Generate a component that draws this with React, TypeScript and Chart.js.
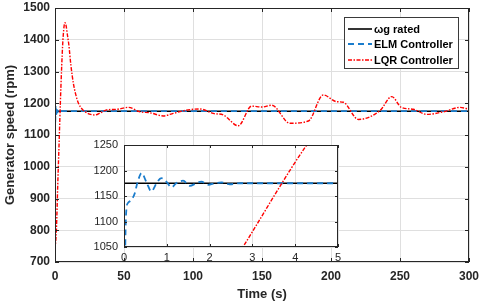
import React, { useEffect, useRef } from "react";
import { Chart, registerables } from "chart.js";

Chart.register(...registerables);

// ---------- data ----------
const ratedTime = [0, 300];
const ratedSpeed = [1175, 1175];

const elmTime = [0, 0.015, 0.03, 0.055, 0.09, 0.17, 0.25, 0.31, 0.41, 0.52, 0.64, 0.76, 0.87, 0.99, 1.11, 1.22, 1.38, 1.54, 1.69, 1.81, 1.97, 2.12, 2.28, 2.47, 2.71, 3.5, 300];
const elmSpeed = [700, 900, 1050, 1123, 1136, 1142, 1155, 1175, 1195, 1178, 1159, 1175, 1185, 1178, 1167, 1175, 1180, 1170, 1175, 1178, 1172, 1175, 1176.5, 1173, 1175, 1175, 1175];

const lqrTime = [0, 1, 2, 2.78, 4.27, 5.5, 6.5, 7.2, 8, 9, 10, 11.5, 13.3, 15, 17, 20, 22, 25, 29, 33, 37.4, 44.7, 53.1, 61.6, 68.8, 78.5, 85.7, 95, 105, 114.7, 122, 132.8, 142.5, 150, 157, 170.3, 183.6, 194.4, 204, 209, 219.8, 235.5, 244, 251, 259.6, 269.3, 281.4, 293.5, 300];
const lqrSpeed = [740, 800, 945, 1050, 1250, 1380, 1440, 1454, 1445, 1415, 1385, 1320, 1263, 1228, 1200, 1180, 1173, 1166, 1163, 1170, 1179, 1181, 1187, 1173, 1170, 1160, 1168, 1178, 1182, 1168, 1163, 1129, 1191, 1188, 1194, 1137, 1144, 1226, 1205, 1203, 1149, 1177, 1221, 1187, 1181, 1165, 1173, 1187, 1181];

const seriesLabels = ["\u03c9g rated", "ELM Controller", "LQR Controller"];

const mainXTicks = { min: 0, max: 300, step: 50 };
const mainYTicks = { min: 700, max: 1500, step: 100 };
const insetXTicks = { min: 0, max: 5, step: 1 };
const insetYTicks = { min: 1050, max: 1250, step: 50 };

// ---------- style ----------
const FONT = "'Liberation Sans', Arial, Helvetica, sans-serif";
const AXIS = "#262626";
const GRID = "#dfdfdf";
const BLUE = "#1a7ccc";
const RED = "#ff0000";

const toPts = (xs: number[], ys: number[]) => xs.map((x, i) => ({ x, y: ys[i] }));

function makeDatasets() {
  return [
    {
      label: seriesLabels[0],
      data: toPts(ratedTime, ratedSpeed),
      borderColor: "#000000",
      borderWidth: 1.6,
      pointRadius: 0,
      order: 3,
    },
    {
      label: seriesLabels[1],
      data: toPts(elmTime, elmSpeed),
      borderColor: BLUE,
      borderWidth: 1.8,
      borderDash: [6, 4],
      pointRadius: 0,
      cubicInterpolationMode: "monotone",
      order: 2,
    },
    {
      label: seriesLabels[2],
      data: toPts(lqrTime, lqrSpeed),
      borderColor: RED,
      borderWidth: 1.4,
      borderDash: [4, 1.5, 1.5, 1.5],
      pointRadius: 0,
      cubicInterpolationMode: "monotone",
      order: 1,
    },
  ];
}

const boxPlugin = {
  id: "matlabBox",
  afterDatasetsDraw(chart: any, _args: any, opts: any) {
    const { ctx, chartArea: a, scales } = chart;
    const tl = opts.tickLength ?? 4;
    ctx.save();
    ctx.strokeStyle = AXIS;
    ctx.lineWidth = 1;
    ctx.setLineDash([]);
    ctx.beginPath();
    for (const t of scales.x.ticks) {
      const px = Math.round(scales.x.getPixelForValue(t.value)) + 0.5;
      ctx.moveTo(px, a.bottom);
      ctx.lineTo(px, a.bottom - tl);
      ctx.moveTo(px, a.top);
      ctx.lineTo(px, a.top + tl);
    }
    for (const t of scales.y.ticks) {
      const py = Math.round(scales.y.getPixelForValue(t.value)) + 0.5;
      ctx.moveTo(a.left, py);
      ctx.lineTo(a.left + tl, py);
      ctx.moveTo(a.right, py);
      ctx.lineTo(a.right - tl, py);
    }
    ctx.stroke();
    ctx.strokeRect(
      Math.round(a.left) + 0.5,
      Math.round(a.top) + 0.5,
      Math.round(a.right - a.left) - 1,
      Math.round(a.bottom - a.top) - 1
    );
    ctx.restore();
  },
};

const bgPlugin = {
  id: "plotBg",
  beforeDraw(chart: any) {
    const { ctx, chartArea: a } = chart;
    ctx.save();
    ctx.fillStyle = "#ffffff";
    ctx.fillRect(a.left, a.top, a.right - a.left, a.bottom - a.top);
    ctx.restore();
  },
};

const legendPlugin = {
  id: "boxLegend",
  afterDraw(chart: any) {
    const { ctx, chartArea: a } = chart;
    const w = 114;
    const h = 51;
    const x0 = a.right - 11 - w;
    const y0 = a.top + 9;
    ctx.save();
    ctx.fillStyle = "#ffffff";
    ctx.fillRect(x0, y0, w, h);
    ctx.strokeStyle = "#3a3a3a";
    ctx.lineWidth = 1;
    ctx.strokeRect(x0 + 0.5, y0 + 0.5, w, h);
    ctx.font = `bold 11px ${FONT}`;
    ctx.textBaseline = "middle";
    const rows = [12, 27, 43];
    chart.data.datasets.forEach((ds: any, i: number) => {
      const y = y0 + rows[i];
      ctx.beginPath();
      ctx.strokeStyle = ds.borderColor;
      ctx.lineWidth = ds.borderWidth;
      ctx.setLineDash(ds.borderDash || []);
      ctx.moveTo(x0 + 4, y);
      ctx.lineTo(x0 + 28, y);
      ctx.stroke();
      ctx.setLineDash([]);
      ctx.fillStyle = "#000000";
      ctx.fillText(ds.label, x0 + 30, y + 0.5);
    });
    ctx.restore();
  },
};

function axisCommon(t: { min: number; max: number; step: number }, font: any, padding: number) {
  return {
    type: "linear" as const,
    min: t.min,
    max: t.max,
    ticks: {
      stepSize: t.step,
      font,
      color: AXIS,
      padding,
      maxRotation: 0,
      autoSkip: false,
      callback: (v: any) => String(v),
    },
    grid: { color: GRID, drawTicks: false, lineWidth: 1 },
    border: { display: false },
  };
}

const fixHeight = (h: number) => (s: any) => {
  s.height = h;
  s.paddingLeft = 0;
  s.paddingRight = 0;
};
const fixWidth = (w: number) => (s: any) => {
  s.width = w;
  s.paddingTop = 0;
  s.paddingBottom = 0;
};

export default function App() {
  const mainRef = useRef<HTMLCanvasElement>(null);
  const insetRef = useRef<HTMLCanvasElement>(null);

  useEffect(() => {
    const tickFont = { family: FONT, size: 12, weight: "bold" as const };
    const main = new Chart(mainRef.current as HTMLCanvasElement, {
      type: "line",
      data: { datasets: makeDatasets() as any },
      plugins: [boxPlugin, legendPlugin],
      options: {
        animation: false,
        responsive: false,
        devicePixelRatio: 1,
        layout: { padding: { left: 0, right: 11, top: 8, bottom: 0 } },
        plugins: { legend: { display: false }, tooltip: { enabled: false }, matlabBox: { tickLength: 4 } } as any,
        scales: {
          x: {
            ...axisCommon(mainXTicks, tickFont, 7),
            title: {
              display: true,
              text: "Time (s)",
              font: { family: FONT, size: 13, weight: "bold" },
              color: AXIS,
              padding: { top: 0, bottom: 0 },
            },
            afterFit: fixHeight(40),
          },
          y: {
            ...axisCommon(mainYTicks, tickFont, 5),
            title: {
              display: true,
              text: "Generator speed (rpm)",
              font: { family: FONT, size: 13, weight: "bold" },
              color: AXIS,
              padding: { top: 3, bottom: 0 },
            },
            afterFit: fixWidth(55),
          },
        } as any,
      },
    });

    const insetFont = { family: FONT, size: 11 };
    const inset = new Chart(insetRef.current as HTMLCanvasElement, {
      type: "line",
      data: { datasets: makeDatasets() as any },
      plugins: [bgPlugin, boxPlugin],
      options: {
        animation: false,
        responsive: false,
        devicePixelRatio: 1,
        layout: { padding: { left: 0, right: 8, top: 7, bottom: 0 } },
        plugins: { legend: { display: false }, tooltip: { enabled: false }, matlabBox: { tickLength: 3 } } as any,
        scales: {
          x: {
            ...axisCommon(insetXTicks, insetFont, 4),
            afterFit: fixHeight(21),
          },
          y: {
            ...axisCommon(insetYTicks, insetFont, 6),
            afterFit: fixWidth(40),
          },
        } as any,
      },
    });

    return () => {
      main.destroy();
      inset.destroy();
    };
  }, []);

  return (
    <div style={{ position: "fixed", left: 0, top: 0, width: 480, height: 302, background: "#ffffff" }}>
      <canvas ref={mainRef} width={480} height={302} style={{ position: "absolute", left: 0, top: 0 }} />
      <canvas ref={insetRef} width={262} height={130} style={{ position: "absolute", left: 84, top: 138 }} />
    </div>
  );
}
